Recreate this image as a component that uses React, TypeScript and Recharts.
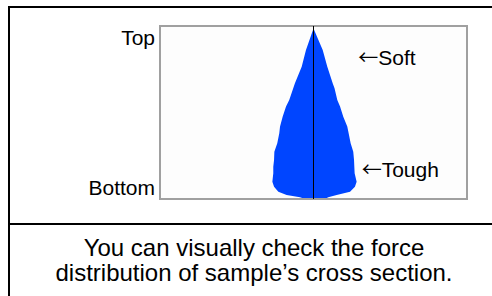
import React from 'react';
import {
  ComposedChart,
  Area,
  XAxis,
  YAxis,
  CartesianGrid,
  ReferenceArea,
  ReferenceLine,
  ReferenceDot,
} from 'recharts';

// depth through the sample (0 = top, 100 = bottom)
const depth = [1.5, 13.9, 23.5, 33.1, 36.0, 42.8, 46.6, 52.4, 58.1, 62.0, 67.8, 72.7, 77.5, 81.3, 85.1, 90.0, 92.9, 95.8, 97.7, 99.0, 100];
// half-widths of the force distribution on each side of the centre line
const leftHalf = [0, 4.9, 7.7, 12.1, 13.2, 15.8, 17.9, 20.1, 21.8, 22.3, 23.6, 25.5, 25.7, 26.2, 26.2, 26.8, 25.7, 22.9, 17.5, 8.8, 5.5];
const rightHalf = [0, 6.0, 9.0, 12.5, 13.7, 15.5, 17.3, 19.4, 22.0, 22.9, 24.2, 25.9, 26.4, 26.6, 26.8, 28.1, 27.0, 23.8, 15.1, 9.6, 7.5];

const sideTickValues = [6.6, 93.3];
const sideTickLabels = ['Top', 'Bottom'];

const noteLabels = ['Soft', 'Tough'];
const noteX = [29.2, 31.4];
const noteDepth = [18.4, 82.8];

const captionLines = ['You can visually check the force', 'distribution of sample’s cross section.'];

const rows = depth.map((d, i) => ({ depth: d, left: -leftHalf[i], right: rightHalf[i] }));

const FONT = '"Liberation Sans", Arial, sans-serif';
const BLUE = '#0045ff';

function NoteLabel(props: any) {
  const vb = props.viewBox || {};
  const x = (vb.x ?? 0) + (vb.width ?? 0);
  const y = (vb.y ?? 0) + (vb.height ?? 0) / 2;
  return (
    <text x={x} y={y} dy="0.355em" fill="#000" fontSize={21} fontFamily={FONT}>
      <tspan fontFamily='"Noto Sans CJK JP", "DejaVu Sans", sans-serif' fontSize={20}>←</tspan>
      <tspan>{props.text}</tspan>
    </text>
  );
}

export default function App() {
  return (
    <div
      style={{
        position: 'fixed',
        left: 8,
        top: 6,
        width: 484,
        height: 290,
        overflow: 'hidden',
        fontFamily: FONT,
        background: '#fff',
      }}
    >
      <div
        style={{
          position: 'absolute',
          left: 0,
          top: 0,
          width: 492,
          height: 320,
          boxSizing: 'border-box',
          border: '2px solid #000',
        }}
      />
      <div style={{ position: 'absolute', left: 0, top: 217, width: 492, height: 2, background: '#000' }} />
      <div style={{ position: 'absolute', left: 2, top: 2 }}>
        <ComposedChart
          layout="vertical"
          width={476}
          height={215}
          data={rows}
          margin={{ top: 18, right: 19, bottom: 24, left: 90 }}
        >
          <CartesianGrid horizontal={false} vertical={false} fill="#fdfdfd" />
          <XAxis type="number" domain={[-100, 100]} hide />
          <YAxis
            type="number"
            dataKey="depth"
            domain={[0, 100]}
            ticks={sideTickValues}
            interval={0}
            tickFormatter={(v: number) => sideTickLabels[sideTickValues.indexOf(v)] ?? ''}
            axisLine={false}
            tickLine={false}
            tickSize={0}
            tickMargin={5}
            width={60}
            tick={{ fill: '#000', fontSize: 21 }}
          />
          <Area
            dataKey="left"
            type="linear"
            stroke="none"
            fill={BLUE}
            fillOpacity={1}
            isAnimationActive={false}
            dot={false}
            activeDot={false}
          />
          <Area
            dataKey="right"
            type="linear"
            stroke="none"
            fill={BLUE}
            fillOpacity={1}
            isAnimationActive={false}
            dot={false}
            activeDot={false}
          />
          <ReferenceArea x1={-100} x2={100} y1={0} y2={100} fill="none" stroke="#a0a0a0" strokeWidth={2} />
          <ReferenceLine x={0} stroke="#000" strokeWidth={1} />
          {noteLabels.map((t, i) => (
            <ReferenceDot
              key={t}
              x={noteX[i]}
              y={noteDepth[i]}
              r={0}
              fill="none"
              stroke="none"
              label={<NoteLabel text={t} />}
            />
          ))}
        </ComposedChart>
      </div>
      <div
        style={{
          position: 'absolute',
          left: 2,
          top: 229,
          width: 488,
          textAlign: 'center',
          fontSize: 24,
          lineHeight: '25px',
          color: '#000',
        }}
      >
        {captionLines.map((l) => (
          <div key={l}>{l}</div>
        ))}
      </div>
    </div>
  );
}
